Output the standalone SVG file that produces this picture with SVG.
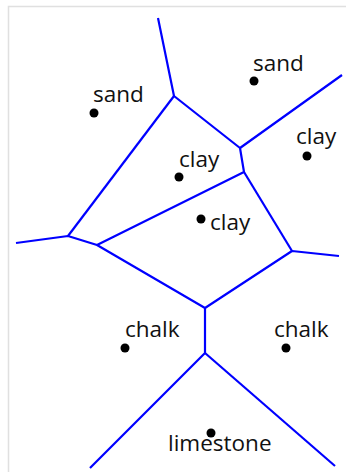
<svg xmlns="http://www.w3.org/2000/svg" width="346" height="472" viewBox="0 0 346 472">
<style>
.frame{fill:none;stroke:#e0e0e0;stroke-width:1.5}
.edge{fill:none;stroke:#0000ff;stroke-width:2.2;stroke-linejoin:round}
.site{fill:#000}
.lbl{font-family:"Open Sans","DejaVu Sans",sans-serif;font-size:22.5px;fill:#111}
</style>
<rect width="346" height="472" fill="#fff"/>
<path class="frame" d="M8.5,472 V6.5 H346"/>
<g id="connectors">
<polyline class="edge" points="158,18 174,96 240,148 342,75"/>
<polyline class="edge" points="240,148 244,172 97,245 68,236 16,243"/>
<polyline class="edge" points="174,96 68,236"/>
<polyline class="edge" points="97,245 205,308 292,251 339,256"/>
<polyline class="edge" points="244,172 292,251"/>
<polyline class="edge" points="205,308 205,353 90,468"/>
<polyline class="edge" points="205,353 335,466"/>
</g>
<g id="sand1"><circle class="site" cx="94" cy="113" r="4.5"/><text class="lbl" x="93" y="102">sand</text></g>
<g id="sand2"><circle class="site" cx="254" cy="81" r="4.5"/><text class="lbl" x="253" y="71">sand</text></g>
<g id="clay1"><circle class="site" cx="307" cy="156" r="4.5"/><text class="lbl" x="296" y="144">clay</text></g>
<g id="clay2"><circle class="site" cx="179" cy="177" r="4.5"/><text class="lbl" x="179" y="167">clay</text></g>
<g id="clay3"><circle class="site" cx="201" cy="219" r="4.5"/><text class="lbl" x="210" y="230">clay</text></g>
<g id="chalk1"><circle class="site" cx="125" cy="348" r="4.5"/><text class="lbl" x="125" y="337">chalk</text></g>
<g id="chalk2"><circle class="site" cx="286" cy="348" r="4.5"/><text class="lbl" x="274" y="337">chalk</text></g>
<g id="limestone"><circle class="site" cx="211" cy="433" r="4.5"/><text class="lbl" x="168" y="451">limestone</text></g>
</svg>
